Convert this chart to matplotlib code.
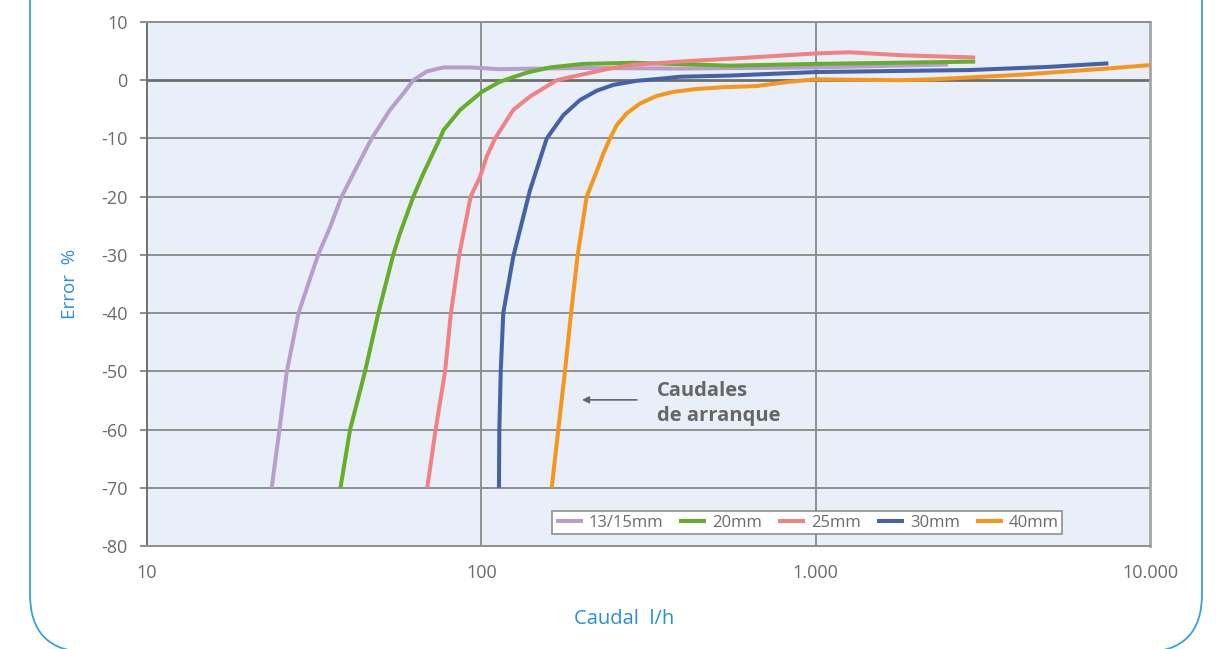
import matplotlib
matplotlib.use("Agg")
import matplotlib.pyplot as plt
from matplotlib.patches import FancyBboxPatch
from matplotlib.transforms import IdentityTransform
from matplotlib.ticker import FixedLocator, FixedFormatter, NullLocator

plt.rcParams['font.family'] = ['Open Sans', 'DejaVu Sans']
plt.rcParams['axes.unicode_minus'] = False

# Error curves (caudal l/h, error %) per meter size
q_13_15 = [23.6, 24.9, 26.2, 28.4, 30.4, 32.5, 35.3, 38.2, 42.4, 47.0, 53.3, 58.4, 62.6, 68.6, 76.9, 92.6, 113, 150, 200, 400, 1000, 2490]
e_13_15 = [-70, -60, -50, -40, -34.9, -30, -25.2, -20, -14.9, -10, -5.1, -2.3, 0, 1.5, 2.2, 2.2, 1.9, 2.0, 2.1, 2.0, 2.2, 2.7]

q_20 = [37.9, 40.5, 44.9, 49.2, 54.5, 57.1, 62.6, 67.1, 75.2, 77.0, 86.4, 100.3, 113.7, 136.7, 160.5, 201.8, 284.9, 554, 1000, 3000]
e_20 = [-70, -60, -50, -40, -30, -26.3, -20, -16, -10, -8.6, -5.1, -2.0, -0.25, 1.3, 2.2, 2.8, 3.0, 2.5, 2.8, 3.2]

q_25 = [68.9, 73.0, 77.9, 81.1, 85.9, 92.9, 99.1, 103.8, 109.9, 124.6, 139.8, 168.1, 197.3, 237.1, 278.4, 392.9, 636, 1000, 1267, 1787, 3000]
e_25 = [-70, -60, -50, -40, -30, -20, -16.6, -13.1, -10, -5.1, -2.8, 0, 0.9, 1.9, 2.6, 3.2, 3.9, 4.6, 4.8, 4.3, 3.9]

q_30 = [112.9, 113.2, 114.3, 116.3, 124.6, 139.8, 156.9, 175.9, 197.3, 221.4, 248.2, 291.5, 350.2, 392.9, 554, 1000, 1787, 2894, 5012, 7506]
e_30 = [-70, -60, -50, -40, -30.3, -18.9, -10, -6.0, -3.4, -1.8, -0.8, -0.1, 0.3, 0.6, 0.8, 1.4, 1.6, 1.75, 2.3, 2.9]

q_40 = [162.4, 169.9, 177.9, 185.5, 194.2, 206.6, 223.9, 231.7, 242.6, 254.1, 272.1, 298.3, 334.6, 375.3, 441.0, 529.6, 666.3, 838.0, 1000, 1787, 2244, 3990, 7424, 10000]
e_40 = [-70, -60, -50, -40, -30, -20, -14.9, -12.6, -10, -7.7, -5.7, -4.0, -2.7, -2.0, -1.5, -1.2, -1.0, -0.25, 0.15, 0.0, 0.15, 0.9, 2.0, 2.6]

series_labels = ['13/15mm', '20mm', '25mm', '30mm', '40mm']
series_colors = ['#b89fcb', '#67ad2b', '#f08285', '#4662a6', '#f5971f']

x_ticks = [10, 100, 1000, 10000]
x_tick_labels = ['10', '100', '1.000', '10.000']
y_ticks = [10, 0, -10, -20, -30, -40, -50, -60, -70, -80]

W, H = 1218, 649
fig = plt.figure(figsize=(W / 100, H / 100), dpi=100)
fig.patch.set_facecolor('white')

# rounded frame around the whole panel
frame = FancyBboxPatch((30, -3), 1202 - 30, 760, boxstyle="round,pad=0,rounding_size=58",
                       transform=IdentityTransform(), facecolor='none',
                       edgecolor='#3a9fe0', linewidth=1.3)
fig.add_artist(frame)

ax = fig.add_axes([147 / W, 1 - 546 / H, (1150 - 147) / W, (546 - 22) / H])
ax.set_facecolor('#e9eff8')

ax.set_xscale('log')
ax.set_xlim(10, 10000)
ax.set_ylim(-80, 10)

# horizontal grid
for yv in y_ticks:
    if yv == 0:
        ax.axhline(yv, color='#6e6e6e', lw=2.0, zorder=1)
    elif yv != -80:
        ax.axhline(yv, color='#8f8f8f', lw=1.4, zorder=1)
# vertical grid at the decades
for xv in x_ticks[1:-1]:
    ax.axvline(xv, color='#8f8f8f', lw=1.4, zorder=1)

series = [(q_13_15, e_13_15), (q_20, e_20), (q_25, e_25), (q_30, e_30), (q_40, e_40)]
for (q, e), lab, col in zip(series, series_labels, series_colors):
    ax.plot(q, e, color=col, lw=2.9, label=lab, zorder=3, solid_joinstyle='round', solid_capstyle='butt')

ax.xaxis.set_major_locator(FixedLocator(x_ticks))
ax.xaxis.set_major_formatter(FixedFormatter(x_tick_labels))
ax.xaxis.set_minor_locator(NullLocator())
ax.yaxis.set_major_locator(FixedLocator(y_ticks))

ax.tick_params(axis='x', length=0, pad=13, labelsize=13, labelcolor='#6b6b6b')
ax.tick_params(axis='y', length=5, width=1.2, color='#7a7a7a', pad=9, labelsize=13, labelcolor='#6b6b6b')

ax.spines['top'].set_color('#8f8f8f')
ax.spines['top'].set_linewidth(1.4)
ax.spines['left'].set_color('#707070')
ax.spines['left'].set_linewidth(1.4)
ax.spines['bottom'].set_color('#8f8f8f')
ax.spines['bottom'].set_linewidth(1.4)
ax.spines['right'].set_color('#a5a5a5')
ax.spines['right'].set_linewidth(2.0)

ax.set_ylabel('Error  %', fontsize=13.5, color='#2b8fd3')
ax.yaxis.set_label_coords((70 - 147) / (1150 - 147), 0.5)
ax.yaxis.label.set_va('center')
ax.set_xlabel('Caudal  l/h', fontsize=14.5, color='#2b8fd3')
ax.xaxis.set_label_coords((624 - 147) / (1150 - 147), (546 - 619) / (546 - 22))
ax.xaxis.label.set_va('center')

# start-flow annotation
ax.annotate('', xy=(200, -54.9), xytext=(292, -54.9),
            arrowprops=dict(arrowstyle='-|>', color='#666666', lw=1.2,
                            mutation_scale=10, shrinkA=0, shrinkB=0), zorder=4)
ax.text(335, -55.5, 'Caudales\nde arranque', fontsize=14.5, fontweight='bold',
        color='#666666', ha='left', va='center', linespacing=1.3, zorder=4)

leg = ax.legend(loc='lower right', bbox_to_anchor=((1062 - 147) / (1150 - 147), (546 - 534) / (546 - 22)),
                ncol=5, fontsize=12, frameon=True, fancybox=False, framealpha=1,
                edgecolor='#8f8f8f', borderpad=0.2, handlelength=1.62, handletextpad=0.36,
                columnspacing=0.96, borderaxespad=0, labelcolor='#6b6b6b')
leg.get_frame().set_linewidth(1.2)
leg.set_zorder(5)

fig.savefig('out.png', dpi=100, facecolor='white')
